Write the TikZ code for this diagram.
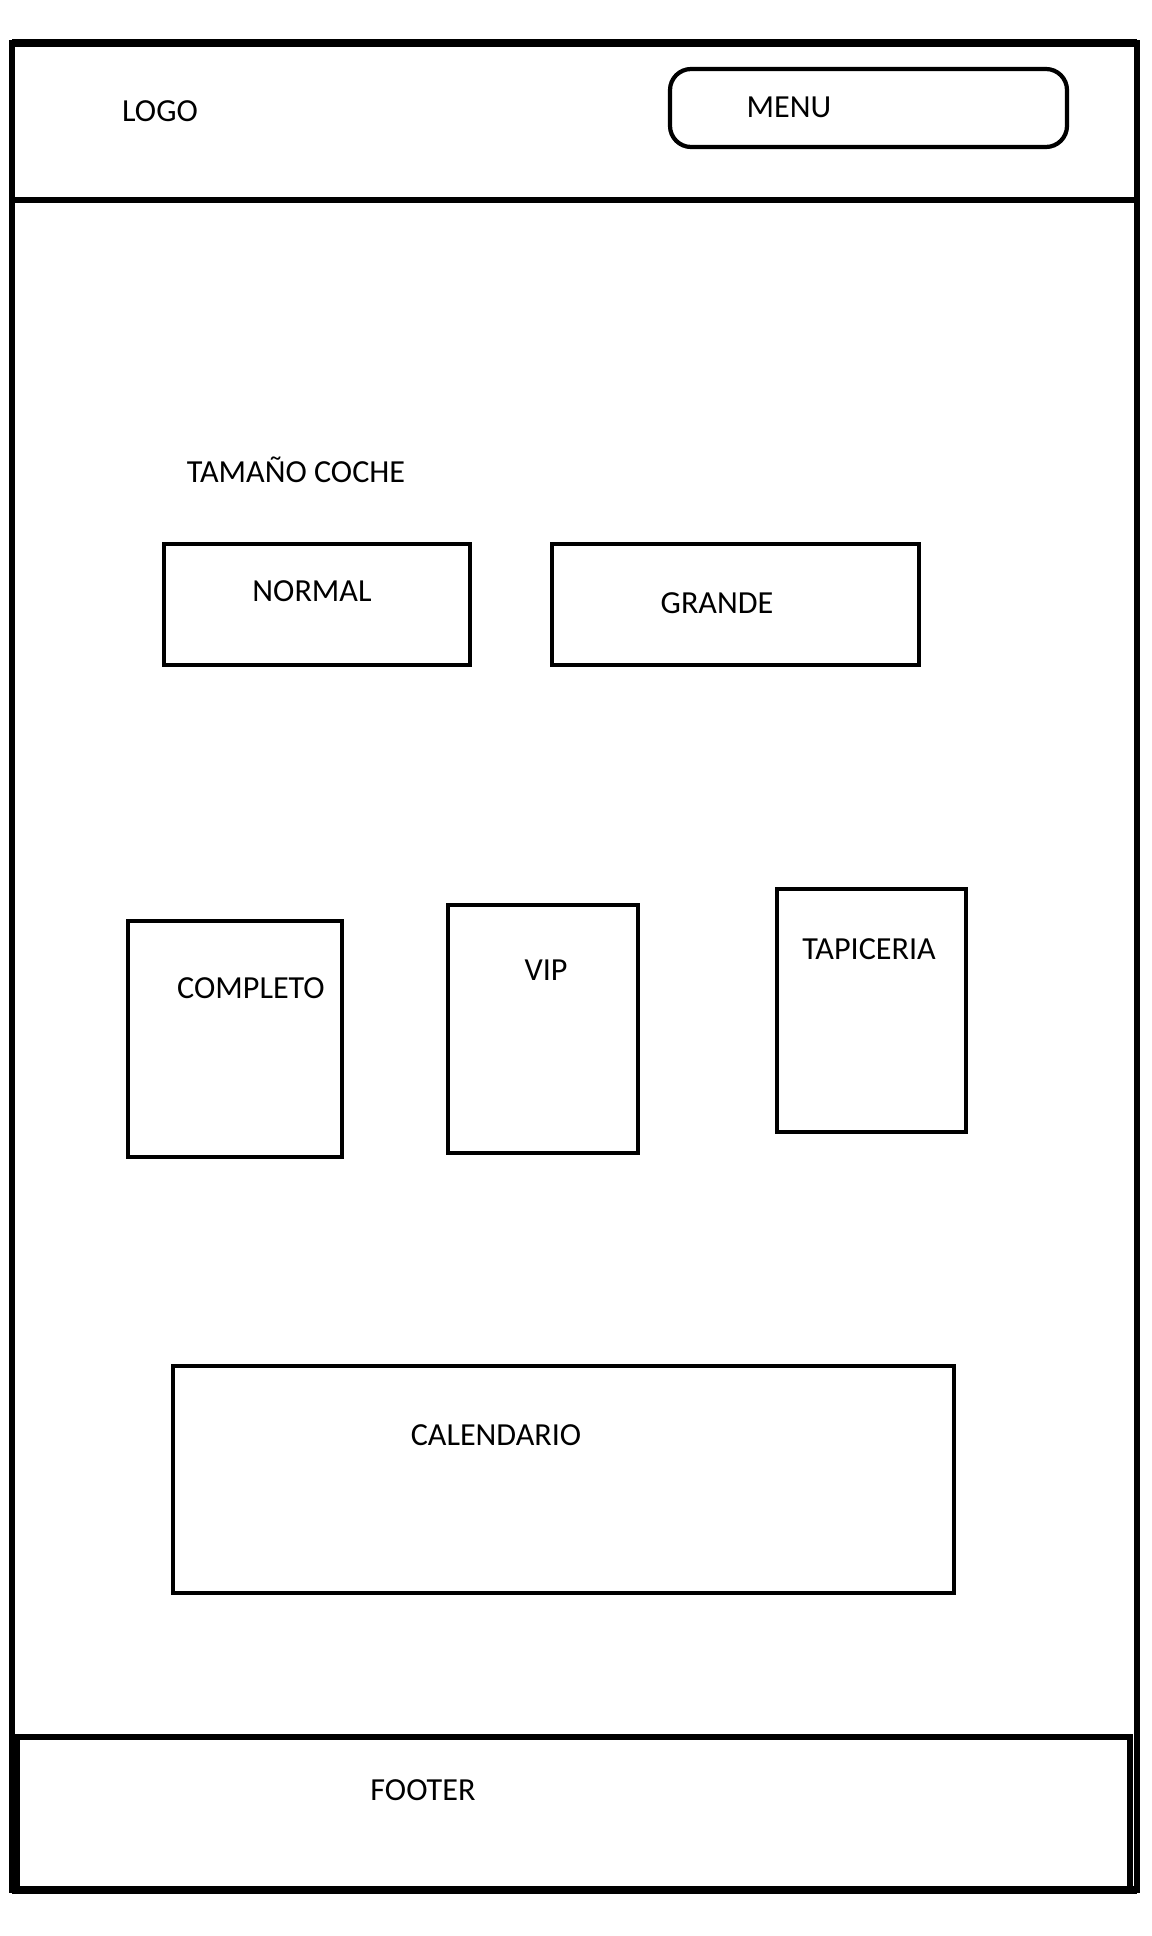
\documentclass[tikz,border=0pt]{standalone}
\usepackage{fontspec}
\setmainfont{Carlito}
\usetikzlibrary{positioning}

\tikzset{
  frame/.style={line width=3pt},
  box/.style={line width=2.4pt},
  lbl/.style={inner sep=0pt, font=\fontsize{18.3}{21}\selectfont}
}

\begin{document}
\begin{tikzpicture}[x=0.02cm, y=-0.02cm]
\useasboundingbox (0,0) rectangle (1152,1936);

% page frame and header
\draw [frame] (12,43) rectangle (1137,1890);
\draw [line width=4.5pt] (12,43) -- (1137,43)
(12,1890) -- (1137,1890);
\draw [frame] (12,200) -- (1137,200);

\node [lbl] (logo) at (160,111) {LOGO};
\draw [box, rounded corners=12pt] (670,69) rectangle (1067,147);
\node [lbl] (menu) at (789,107) {MENU};

% car size
\node [lbl] (tamano) at (296,470) {TAMAÑO COCHE};
\draw [box] (164,544) rectangle (470,665);
\node [lbl] (normal) at (312,591) {NORMAL};
\draw [box] (552,544) rectangle (919,665);
\node [lbl] (grande) at (717,603) {GRANDE};

% services
\draw [box] (128,921) rectangle (342,1157);
\node [lbl] (completo) at (251,988) {COMPLETO};
\draw [box] (448,905) rectangle (638,1153);
\node [lbl] (vip) at (546,970) {VIP};
\draw [box] (777,889) rectangle (966,1132);
\node [lbl] (tapiceria) at (869,949) {TAPICERIA};

% calendar
\draw [box] (173,1366) rectangle (954,1593);
\node [lbl] (calendario) at (496,1435) {CALENDARIO};

% footer
\draw [frame] (17,1737) rectangle (1130,1889);
\node [lbl] (footer) at (423,1790) {FOOTER};

\end{tikzpicture}
\end{document}
